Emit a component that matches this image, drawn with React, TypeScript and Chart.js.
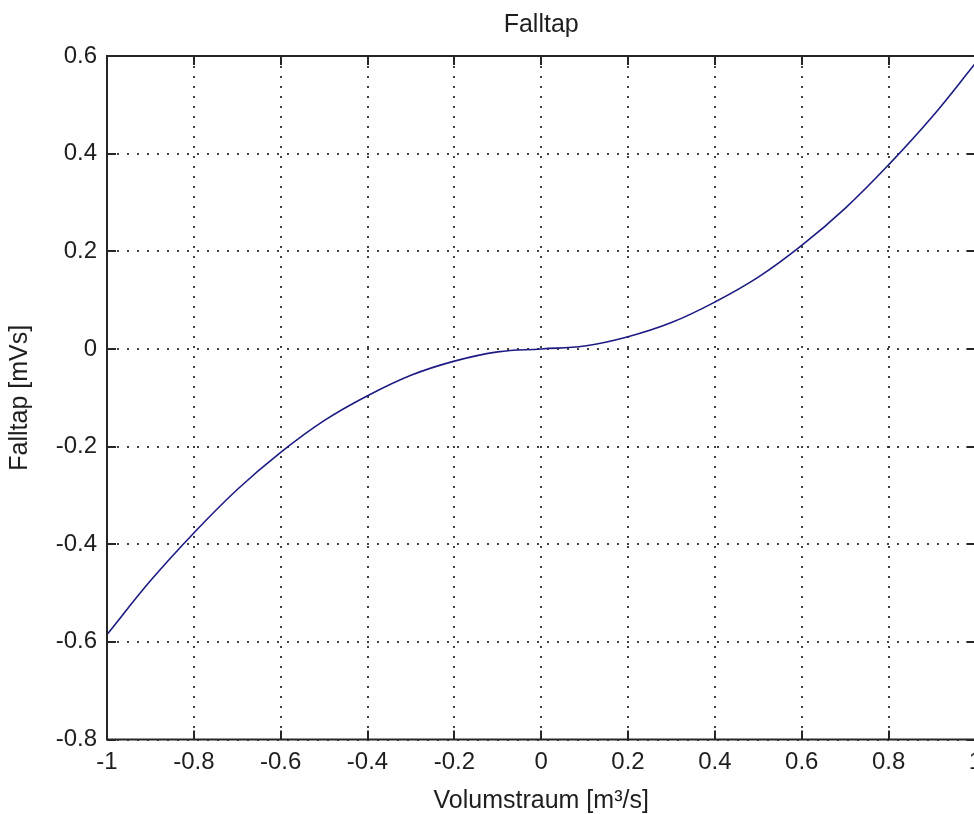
import React, { useEffect, useRef } from "react";
import { Chart, registerables } from "chart.js";

Chart.register(...registerables);

// ---- data ----
const xValues = [-1, -0.9, -0.8, -0.7, -0.6, -0.5, -0.4, -0.3, -0.2, -0.1, 0, 0.1, 0.2, 0.3, 0.4, 0.5, 0.6, 0.7, 0.8, 0.9, 1];
const yValues = [-0.585, -0.475, -0.377, -0.288, -0.212, -0.147, -0.096, -0.054, -0.025, -0.006, 0, 0.006, 0.025, 0.054, 0.096, 0.147, 0.212, 0.288, 0.377, 0.475, 0.585];
const xTickValues = [-1, -0.8, -0.6, -0.4, -0.2, 0, 0.2, 0.4, 0.6, 0.8, 1];
const yTickValues = [-0.8, -0.6, -0.4, -0.2, 0, 0.2, 0.4, 0.6];
const titleText = "Falltap";
const xLabel = "Volumstraum [m³/s]";
const yLabel = "Falltap [mVs]";

const FONT = '"Liberation Sans", Arial, Helvetica, sans-serif';
const TEXT_COLOR = "#1e1e1e";
const FRAME_COLOR = "#262626";

const framePlugin = {
  id: "matlabFrame",
  afterDatasetsDraw(chart: any) {
    const { ctx, chartArea, scales } = chart;
    const { left, right, top, bottom } = chartArea;
    const xs = scales.x;
    const ys = scales.y;
    ctx.save();
    ctx.strokeStyle = FRAME_COLOR;
    ctx.lineWidth = 2;
    ctx.setLineDash([]);
    ctx.strokeRect(left, top, right - left, bottom - top);
    const L = 9;
    ctx.beginPath();
    xs.ticks.forEach((t: any) => {
      const px = Math.round(xs.getPixelForValue(t.value));
      ctx.moveTo(px, bottom);
      ctx.lineTo(px, bottom - L);
      ctx.moveTo(px, top);
      ctx.lineTo(px, top + L);
    });
    ys.ticks.forEach((t: any) => {
      const py = Math.round(ys.getPixelForValue(t.value));
      ctx.moveTo(left, py);
      ctx.lineTo(left + L, py);
      ctx.moveTo(right, py);
      ctx.lineTo(right - L, py);
    });
    ctx.stroke();
    ctx.fillStyle = TEXT_COLOR;
    ctx.font = `25px ${FONT}`;
    ctx.textAlign = "center";
    ctx.textBaseline = "middle";
    ctx.fillText(titleText, (left + right) / 2, 25);
    ctx.restore();
  },
};

export default function App() {
  const canvasRef = useRef<HTMLCanvasElement | null>(null);

  useEffect(() => {
    const canvas = canvasRef.current;
    if (!canvas) return;
    const points = xValues.map((x, i) => ({ x, y: yValues[i] }));
    const gridCommon = {
      color: "rgba(30,30,30,0.85)",
      lineWidth: 2,
      drawTicks: false,
      tickLength: 0,
    };
    const chart = new Chart(canvas, {
      type: "scatter",
      data: {
        datasets: [
          {
            data: points,
            showLine: true,
            borderColor: "#1c1c84",
            borderWidth: 1.6,
            pointRadius: 0,
            pointHoverRadius: 0,
            tension: 0.4,
            fill: false,
          },
        ],
      },
      options: {
        responsive: false,
        animation: false,
        devicePixelRatio: 1,
        layout: { padding: { top: 56, right: 24.6, bottom: 0, left: 0 } },
        plugins: {
          legend: { display: false },
          title: { display: false },
          tooltip: { enabled: false },
        },
        scales: {
          x: {
            type: "linear",
            min: -1,
            max: 1,
            afterBuildTicks: (s: any) => {
              s.ticks = xTickValues.map((v) => ({ value: v }));
            },
            afterFit: (s: any) => {
              s.height = 74.5;
            },
            ticks: {
              color: TEXT_COLOR,
              font: { family: FONT, size: 24, lineHeight: 1 },
              padding: 11,
              maxRotation: 0,
              autoSkip: false,
              callback: (v: any) => String(v),
            },
            grid: gridCommon,
            border: { display: false, dash: [2, 8] },
            title: {
              display: true,
              text: xLabel,
              color: TEXT_COLOR,
              font: { family: FONT, size: 25, lineHeight: 1 },
              padding: { top: 0, bottom: 0 },
            },
          },
          y: {
            type: "linear",
            min: -0.8,
            max: 0.6,
            afterBuildTicks: (s: any) => {
              s.ticks = yTickValues.map((v) => ({ value: v }));
            },
            afterFit: (s: any) => {
              s.width = 107;
            },
            ticks: {
              color: TEXT_COLOR,
              font: { family: FONT, size: 24 },
              padding: 10,
              autoSkip: false,
              callback: (v: any) => String(v),
            },
            grid: gridCommon,
            border: { display: false, dash: [2, 8] },
            title: {
              display: true,
              text: yLabel,
              color: TEXT_COLOR,
              font: { family: FONT, size: 25, lineHeight: 1 },
              padding: { top: 8, bottom: 0 },
            },
          },
        },
      },
      plugins: [framePlugin],
    } as any);
    return () => chart.destroy();
  }, []);

  return (
    <div
      style={{
        position: "fixed",
        left: 0,
        top: 0,
        width: 974,
        height: 814,
        overflow: "hidden",
        background: "#ffffff",
      }}
    >
      <canvas ref={canvasRef} width={1000} height={814} style={{ display: "block", width: 1000, height: 814 }} />
    </div>
  );
}
